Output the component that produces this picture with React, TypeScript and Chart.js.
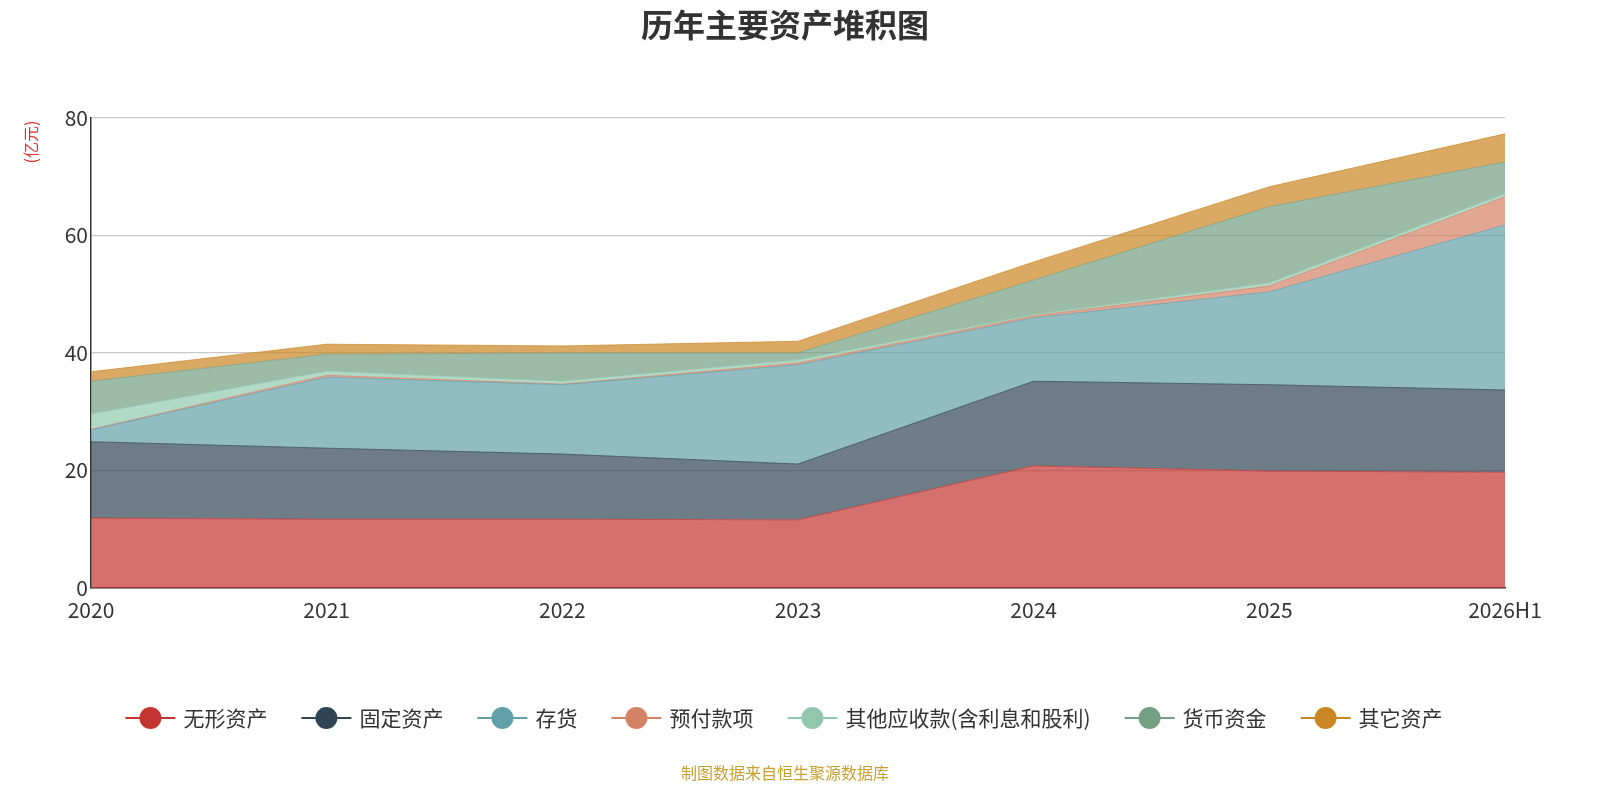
import { useEffect, useRef } from 'react'
import { Chart, registerables } from 'chart.js'

Chart.register(...registerables)

const years = ['2020', '2021', '2022', '2023', '2024', '2025', '2026H1']
const intangible = [11.9, 11.7, 11.7, 11.6, 20.8, 19.9, 19.7]
const fixedAssets = [13.0, 12.1, 11.1, 9.5, 14.4, 14.7, 14.0]
const inventory = [2.0, 12.1, 11.8, 16.9, 10.8, 15.8, 28.1]
const prepaid = [0.1, 0.3, 0.1, 0.3, 0.3, 1.0, 4.8]
const otherRecv = [2.6, 0.7, 0.5, 0.5, 0.2, 0.5, 0.5]
const cash = [5.6, 2.9, 4.8, 1.2, 5.9, 13.0, 5.4]
const others = [1.6, 1.7, 1.2, 2.0, 3.1, 3.4, 4.8]

const names = ['无形资产', '固定资产', '存货', '预付款项', '其他应收款(含利息和股利)', '货币资金', '其它资产']
const colors = ['#c23531', '#2f4554', '#61a0a8', '#d48265', '#91c7ae', '#749f83', '#ca8622']
const series = [intangible, fixedAssets, inventory, prepaid, otherRecv, cash, others]

const FONT = '"Noto Sans CJK SC", "Noto Sans", sans-serif'

const decor = {
  id: 'decor',
  afterDraw(chart: any) {
    const ctx = chart.ctx
    ctx.save()
    ctx.fillStyle = '#333'
    ctx.font = `bold 32px ${FONT}`
    ctx.textAlign = 'center'
    ctx.textBaseline = 'middle'
    ctx.fillText('历年主要资产堆积图', 785, 25)

    ctx.save()
    ctx.translate(31, 142)
    ctx.rotate(-Math.PI / 2)
    ctx.fillStyle = '#e03030'
    ctx.font = `16px ${FONT}`
    ctx.fillText('(亿元)', 0, 0)
    ctx.restore()

    // legend
    ctx.font = `21px ${FONT}`
    ctx.textAlign = 'left'
    const gap = 34
    const widths = names.map((n) => 50 + 8 + ctx.measureText(n).width)
    const total = widths.reduce((a, b) => a + b, 0) + gap * (names.length - 1)
    let x = 784 - total / 2
    const y = 718
    names.forEach((n, i) => {
      ctx.strokeStyle = colors[i]
      ctx.lineWidth = 2
      ctx.beginPath()
      ctx.moveTo(x, y)
      ctx.lineTo(x + 50, y)
      ctx.stroke()
      ctx.fillStyle = colors[i]
      ctx.beginPath()
      ctx.arc(x + 25, y, 11, 0, Math.PI * 2)
      ctx.fill()
      ctx.fillStyle = '#333'
      ctx.fillText(n, x + 58, y)
      x += widths[i] + gap
    })

    ctx.textAlign = 'center'
    ctx.fillStyle = '#c8a030'
    ctx.font = `16px ${FONT}`
    ctx.fillText('制图数据来自恒生聚源数据库', 785, 773)
    ctx.restore()
  },
}

export default function App() {
  const canvasRef = useRef<HTMLCanvasElement>(null)

  useEffect(() => {
    document.body.style.margin = '0'
    const chart = new Chart(canvasRef.current as HTMLCanvasElement, {
      type: 'line',
      data: {
        labels: years,
        datasets: series.map((d, i) => ({
          label: names[i],
          data: d,
          fill: i === 0 ? 'origin' : '-1',
          backgroundColor: colors[i] + 'b3',
          borderColor: colors[i] + 'b3',
          borderWidth: 1,
          pointRadius: 0,
          tension: 0,
        })),
      },
      options: {
        animation: false,
        responsive: false,
        layout: { padding: { left: 0, right: 95, top: 118, bottom: 172 } },
        plugins: { legend: { display: false }, tooltip: { enabled: false } },
        scales: {
          x: {
            offset: false,
            grid: { display: false, drawTicks: true, tickLength: 6 },
            border: { color: '#333', width: 1.5 },
            ticks: { color: '#333', font: { size: 21, family: FONT }, maxRotation: 0 },
            afterFit: (s: any) => { s.height = 40 },
          },
          y: {
            stacked: true,
            min: 0,
            max: 80,
            ticks: { stepSize: 20, color: '#333', font: { size: 21, family: FONT } },
            grid: { color: '#c8c8c8', drawTicks: false, lineWidth: 1.2 },
            border: { color: '#333', width: 1.5, display: true },
            afterFit: (s: any) => { s.width = 91 },
          },
        },
      },
      plugins: [decor],
    })
    return () => chart.destroy()
  }, [])

  return <canvas ref={canvasRef} width={1600} height={800} style={{ display: 'block' }} />
}
